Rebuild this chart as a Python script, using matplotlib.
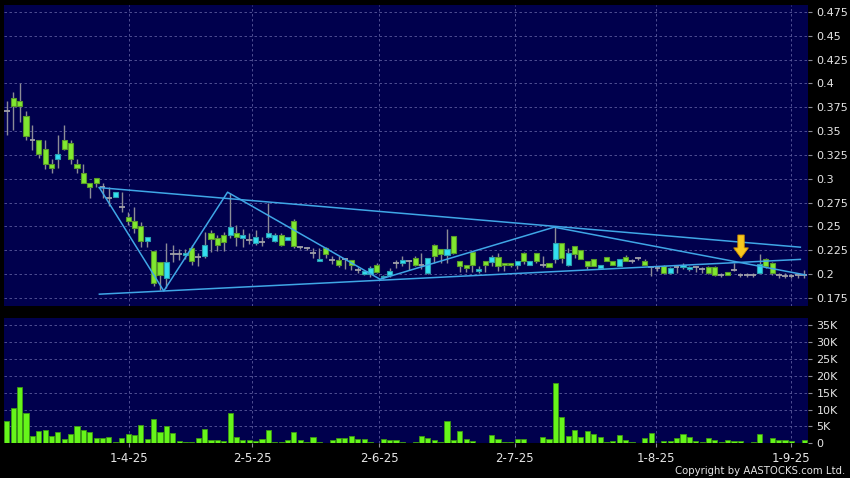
import numpy as np
import matplotlib
matplotlib.use("Agg")
import matplotlib.pyplot as plt
from matplotlib.patches import Rectangle, Polygon

# daily OHLC, one entry per trading day (Mar - Sep 2025)
opens = [
    0.371, 0.385, 0.382, 0.366, 0.341, 0.341, 0.331, 0.316, 0.321, 0.341,
    0.337, 0.316, 0.306, 0.296, 0.301, 0.291, 0.280, 0.281, 0.270, 0.260,
    0.256, 0.250, 0.235, 0.224, 0.213, 0.196, 0.221, 0.221, 0.220, 0.227,
    0.218, 0.219, 0.243, 0.238, 0.241, 0.241, 0.243, 0.238, 0.236, 0.233,
    0.234, 0.239, 0.235, 0.241, 0.236, 0.256, 0.228, 0.227, 0.222, 0.214,
    0.227, 0.215, 0.215, 0.216, 0.215, 0.204, 0.200, 0.200, 0.210, 0.197,
    0.199, 0.212, 0.212, 0.214, 0.217, 0.210, 0.201, 0.231, 0.226, 0.220,
    0.240, 0.214, 0.210, 0.223, 0.203, 0.214, 0.213, 0.218, 0.212, 0.212,
    0.209, 0.222, 0.210, 0.222, 0.210, 0.212, 0.216, 0.233, 0.210, 0.229,
    0.225, 0.214, 0.216, 0.206, 0.218, 0.214, 0.208, 0.218, 0.214, 0.217,
    0.214, 0.207, 0.206, 0.208, 0.201, 0.207, 0.207, 0.205, 0.207, 0.205,
    0.207, 0.207, 0.199, 0.202, 0.204, 0.199, 0.199, 0.199, 0.201, 0.216,
    0.212, 0.199, 0.198, 0.198, 0.199, 0.199,
]
highs = [
    0.382, 0.391, 0.400, 0.371, 0.356, 0.341, 0.341, 0.321, 0.346, 0.356,
    0.341, 0.321, 0.316, 0.296, 0.301, 0.296, 0.291, 0.286, 0.286, 0.265,
    0.270, 0.255, 0.239, 0.224, 0.213, 0.233, 0.231, 0.226, 0.226, 0.231,
    0.222, 0.244, 0.246, 0.241, 0.244, 0.285, 0.251, 0.247, 0.243, 0.246,
    0.239, 0.275, 0.243, 0.243, 0.239, 0.258, 0.229, 0.228, 0.227, 0.227,
    0.228, 0.219, 0.219, 0.217, 0.215, 0.207, 0.203, 0.208, 0.212, 0.199,
    0.206, 0.215, 0.219, 0.215, 0.219, 0.222, 0.217, 0.232, 0.226, 0.247,
    0.240, 0.214, 0.210, 0.223, 0.208, 0.214, 0.220, 0.222, 0.212, 0.212,
    0.214, 0.223, 0.214, 0.222, 0.219, 0.212, 0.250, 0.233, 0.227, 0.229,
    0.225, 0.214, 0.216, 0.210, 0.218, 0.214, 0.216, 0.220, 0.216, 0.218,
    0.216, 0.208, 0.207, 0.209, 0.207, 0.209, 0.212, 0.208, 0.208, 0.207,
    0.208, 0.208, 0.201, 0.202, 0.212, 0.201, 0.201, 0.201, 0.221, 0.217,
    0.213, 0.201, 0.201, 0.200, 0.201, 0.204,
]
lows = [
    0.346, 0.351, 0.360, 0.341, 0.330, 0.322, 0.310, 0.306, 0.311, 0.330,
    0.316, 0.306, 0.296, 0.280, 0.291, 0.280, 0.271, 0.281, 0.265, 0.251,
    0.243, 0.228, 0.228, 0.187, 0.183, 0.185, 0.213, 0.215, 0.216, 0.210,
    0.208, 0.217, 0.223, 0.224, 0.224, 0.238, 0.229, 0.228, 0.232, 0.231,
    0.229, 0.238, 0.234, 0.229, 0.236, 0.227, 0.226, 0.225, 0.217, 0.214,
    0.217, 0.211, 0.207, 0.205, 0.204, 0.201, 0.199, 0.197, 0.201, 0.195,
    0.197, 0.206, 0.208, 0.204, 0.208, 0.205, 0.200, 0.212, 0.212, 0.212,
    0.221, 0.202, 0.202, 0.202, 0.201, 0.202, 0.208, 0.203, 0.203, 0.207,
    0.205, 0.211, 0.209, 0.212, 0.207, 0.207, 0.212, 0.212, 0.208, 0.217,
    0.216, 0.205, 0.208, 0.206, 0.214, 0.210, 0.208, 0.214, 0.212, 0.215,
    0.209, 0.198, 0.203, 0.200, 0.200, 0.201, 0.205, 0.203, 0.202, 0.201,
    0.200, 0.198, 0.197, 0.199, 0.203, 0.197, 0.197, 0.197, 0.201, 0.206,
    0.199, 0.196, 0.196, 0.196, 0.196, 0.196,
]
closes = [
    0.371, 0.376, 0.376, 0.345, 0.341, 0.326, 0.316, 0.311, 0.326, 0.331,
    0.321, 0.311, 0.296, 0.291, 0.296, 0.291, 0.280, 0.286, 0.270, 0.256,
    0.248, 0.235, 0.239, 0.191, 0.199, 0.213, 0.221, 0.221, 0.222, 0.214,
    0.218, 0.231, 0.237, 0.230, 0.234, 0.249, 0.239, 0.241, 0.236, 0.239,
    0.234, 0.243, 0.241, 0.230, 0.239, 0.229, 0.228, 0.227, 0.222, 0.216,
    0.221, 0.215, 0.210, 0.216, 0.209, 0.204, 0.203, 0.206, 0.202, 0.198,
    0.203, 0.212, 0.215, 0.214, 0.209, 0.210, 0.217, 0.219, 0.221, 0.226,
    0.222, 0.208, 0.206, 0.210, 0.205, 0.209, 0.218, 0.208, 0.209, 0.209,
    0.214, 0.214, 0.214, 0.214, 0.210, 0.207, 0.233, 0.217, 0.222, 0.221,
    0.216, 0.208, 0.208, 0.210, 0.214, 0.210, 0.216, 0.214, 0.214, 0.217,
    0.210, 0.207, 0.206, 0.201, 0.206, 0.207, 0.209, 0.207, 0.207, 0.205,
    0.201, 0.199, 0.199, 0.199, 0.204, 0.199, 0.199, 0.199, 0.211, 0.208,
    0.201, 0.199, 0.198, 0.198, 0.199, 0.199,
]
# volume in thousands of shares
volumes_k = [
    6.6, 10.4, 16.8, 8.9, 2.2, 3.5, 3.9, 2.2, 3.4, 1.4,
    2.7, 5.1, 3.8, 3.2, 1.5, 1.6, 1.8, 0.5, 1.5, 2.7,
    2.5, 5.4, 1.3, 7.1, 3.3, 5.1, 3.0, 0.6, 0.3, 0.3,
    1.5, 4.1, 1.1, 0.9, 0.6, 9.1, 2.0, 1.0, 1.0, 0.6,
    1.2, 3.8, 0.3, 0.4, 0.9, 3.3, 1.0, 0.5, 2.0, 0.5,
    0.1, 0.9, 1.5, 1.5, 2.2, 1.4, 1.4, 0.5, 0.1, 1.4,
    1.1, 1.1, 0.3, 0.1, 0.5, 2.3, 1.7, 1.0, 0.3, 6.6,
    1.0, 3.7, 1.2, 0.7, 0.2, 0.2, 2.5, 1.2, 0.5, 0.5,
    1.3, 1.3, 0.2, 0.2, 2.0, 1.2, 18.0, 7.9, 2.2, 3.9,
    1.8, 3.5, 2.8, 1.8, 0.5, 0.8, 2.4, 1.1, 0.5, 0.1,
    1.5, 3.0, 0.2, 0.6, 0.6, 1.5, 2.9, 1.8, 0.6, 0.4,
    1.5, 0.9, 0.4, 0.9, 0.7, 0.6, 0.2, 0.5, 2.8, 0.2,
    1.5, 0.9, 1.0, 0.8, 0.2, 1.1,
]

date_labels = ["1-4-25", "2-5-25", "2-6-25", "2-7-25", "1-8-25", "1-9-25"]
date_pos = [19.1, 38.5, 58.4, 79.6, 101.8, 123.0]

price_ticks = [0.175, 0.2, 0.225, 0.25, 0.275, 0.3, 0.325, 0.35, 0.375,
               0.4, 0.425, 0.45, 0.475]
vol_ticks = [0, 5, 10, 15, 20, 25, 30, 35]

# pattern lines drawn by the chart service
zigzag_x = [14.5, 24.6, 34.6, 58.5, 85.8, 125.2]
zigzag_y = [0.2907, 0.1823, 0.2859, 0.1946, 0.2492, 0.1991]
upper_x = [14.5, 124.4]
upper_y = [0.2907, 0.2282]
lower_x = [14.5, 124.4]
lower_y = [0.1789, 0.2154]
arrow_x = 115.1
arrow_top = 0.241
arrow_tip = 0.217

BG = "#000000"
PANEL = "#00004d"
GRID = "#5a5a9c"
UP = "#33dff0"
UP_EDGE = "#2a9fb0"
DOWN = "#80e830"
DOWN_EDGE = "#5a9a2a"
WICK = "#8c8c96"
LINE = "#3fa6e6"
TXT = "#e6e6e6"

fig = plt.figure(figsize=(8.5, 4.78), dpi=100, facecolor=BG)
ax = fig.add_axes([4 / 850, 1 - 306 / 478, 804 / 850, 301 / 478])
axv = fig.add_axes([4 / 850, 1 - 443.3 / 478, 804 / 850, 125.3 / 478])

n = len(opens)
idx = np.arange(n)
xlim = (-0.45, 125.6)

for a in (ax, axv):
    a.set_facecolor(PANEL)
    for s in a.spines.values():
        s.set_visible(False)
    a.set_xlim(*xlim)
    a.yaxis.tick_right()
    a.tick_params(axis="y", colors=WICK, labelcolor=TXT, labelsize=8,
                  length=3, pad=3, width=0.8)
    a.set_xticks(date_pos)
    a.grid(True, color=GRID, linestyle=(0, (3, 3)), linewidth=0.6)
    a.set_axisbelow(True)

# candles
for i in idx:
    o, h, l, c = opens[i], highs[i], lows[i], closes[i]
    ax.vlines(i, l, h, color=WICK, linewidth=1.0, zorder=2)
    if c > o:
        ax.add_patch(Rectangle((i - 0.4, o), 0.8, c - o, facecolor=UP,
                               edgecolor=UP_EDGE, linewidth=0.8, zorder=3))
    elif c < o:
        ax.add_patch(Rectangle((i - 0.4, c), 0.8, o - c, facecolor=DOWN,
                               edgecolor=DOWN_EDGE, linewidth=0.8, zorder=3))
    else:
        ax.hlines(o, i - 0.45, i + 0.45, color="#a0a0a8", linewidth=1.3, zorder=3)

ax.plot(zigzag_x, zigzag_y, color=LINE, linewidth=1.1, zorder=4)
ax.plot(upper_x, upper_y, color=LINE, linewidth=1.1, zorder=4)
ax.plot(lower_x, lower_y, color=LINE, linewidth=1.1, zorder=4)

# down arrow marker
hw, sw, hl = 1.15, 0.5, 0.0105
ax.add_patch(Polygon([
    (arrow_x - sw, arrow_top), (arrow_x + sw, arrow_top),
    (arrow_x + sw, arrow_tip + hl), (arrow_x + hw, arrow_tip + hl),
    (arrow_x, arrow_tip), (arrow_x - hw, arrow_tip + hl),
    (arrow_x - sw, arrow_tip + hl)],
    closed=True, facecolor="#f7c81e", edgecolor="#d89400", linewidth=0.6, zorder=5))

ax.set_ylim(0.1665, 0.4823)
ax.set_yticks(price_ticks)
ax.set_yticklabels([f"{v:g}" for v in price_ticks])
ax.tick_params(axis="x", length=0, labelbottom=False)

axv.bar(idx, volumes_k, width=0.8, color="#66f51a", edgecolor="#3c9a12",
        linewidth=0.6, zorder=3)
axv.set_ylim(0, 37.1)
axv.set_yticks(vol_ticks)
axv.set_yticklabels(["0"] + [f"{v}K" for v in vol_ticks[1:]])
axv.set_xticklabels(date_labels)
axv.tick_params(axis="x", colors=WICK, labelcolor=TXT, labelsize=8.5,
                length=3, pad=3, width=0.8)

fig.text(845 / 850, 1 - 471.5 / 478, "Copyright by AASTOCKS.com Ltd.",
         color=TXT, fontsize=7.3, ha="right", va="center")

fig.savefig("out.png", dpi=100, facecolor=BG)
